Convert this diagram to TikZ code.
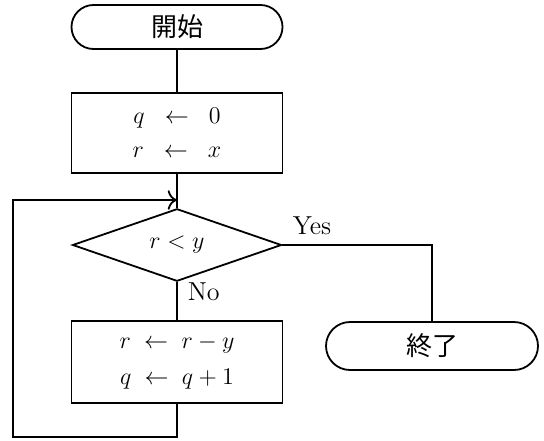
\documentclass[tikz,border=0pt]{standalone}
\usepackage{fontspec}
\newfontfamily\cjk{Noto Sans CJK JP}
\usetikzlibrary{shapes.misc,shapes.geometric,arrows.meta}
\begin{document}
\begin{tikzpicture}[x=0.5pt,y=0.5pt,line width=0.9pt,>={To[scale=1.3]},
    font=\fontsize{13}{17}\selectfont,
    term/.style={draw,rounded rectangle,minimum width=105.5pt,minimum height=22pt,inner sep=0pt},
    proc/.style={draw,rectangle,minimum width=105.5pt,minimum height=40pt,align=center,inner sep=0pt},
    cond/.style={draw,diamond,minimum width=104.5pt,minimum height=28.5pt,inner sep=0pt}]
  \useasboundingbox (0,0) rectangle (544,440);
  \draw
    (177,413) node[term] (start){\cjk 開始}
    (177,307) node[proc] (init){$q\;\;\leftarrow\;\;0$\\$r\;\;\leftarrow\;\;x$}
    (177,195) node[cond] (test){$r<y$}
    (177,78) node[proc,minimum height=41pt] (step){$r\;\leftarrow\;r-y$\\[1pt]$q\;\leftarrow\;q+1$}
    (432,94) node[term,minimum width=106pt,minimum height=24pt] (stop){\cjk 終了};
  \coordinate (bottom) at (177,3);
  \coordinate (left) at (13,3);
  \coordinate (back) at (13,240);
  \coordinate (join) at (177,240);
  \begin{scope}[-]
    \draw (start) to (init);
    \draw (init) to (test);
    \draw (test.east) -- (stop.north |- test.east) -- (stop.north);
    \draw (test.south) to (step.north);
    \draw[->] (step.south) -- (bottom) -- (left) -- (back) -- (join);
  \end{scope}
  \node[anchor=south west,inner sep=0pt] (yes) at (292,204) {Yes};
  \node[anchor=west,inner sep=0pt] (no) at (187,148) {No};
\end{tikzpicture}
\end{document}
